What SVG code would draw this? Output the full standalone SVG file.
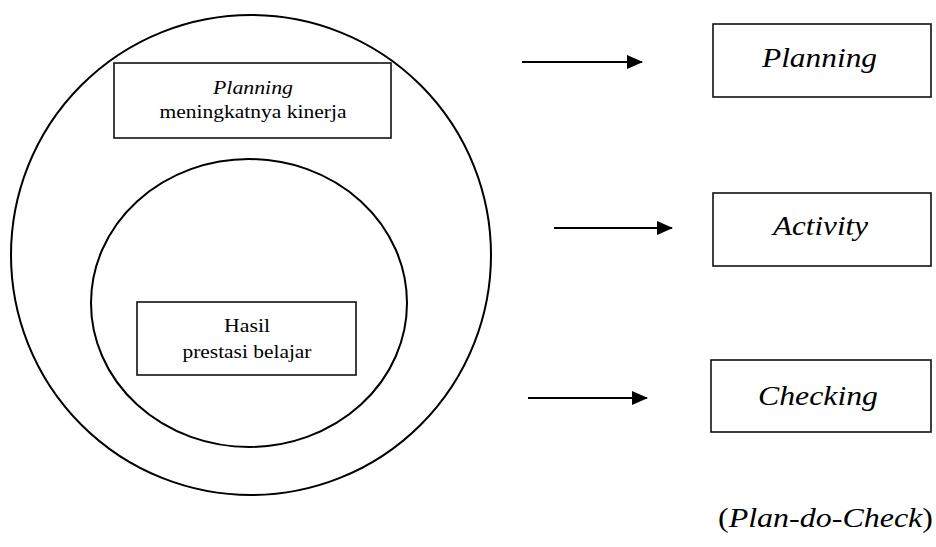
<svg xmlns="http://www.w3.org/2000/svg" width="936" height="547" viewBox="0 0 936 547">
<defs>
<style>
.c{fill:none;stroke:#000;stroke-width:2}
.b{fill:#fff;stroke:#111;stroke-width:1.6}
text{font-family:'Liberation Serif','Times New Roman',Times,serif;fill:#000}
.s{font-size:18px}
.L{font-size:28px;font-style:italic}
.i{font-style:italic}
.a{stroke:#000;stroke-width:2;fill:none;marker-end:url(#ah)}
</style>
<marker id="ah" viewBox="0 0 16 14" refX="15" refY="7" markerWidth="16" markerHeight="14" markerUnits="userSpaceOnUse" orient="auto">
<path d="M0,0 L16,7 L0,14 Z" fill="#000"/>
</marker>
</defs>
<rect width="936" height="547" fill="#fff"/>
<g id="outer-circle"><ellipse class="c" cx="251" cy="255" rx="240" ry="240"/></g>
<g id="inner-circle"><ellipse class="c" cx="249" cy="303" rx="158" ry="144"/></g>
<g id="planning-box" font-family="Liberation Serif, serif">
<rect class="b" x="114" y="63" width="277" height="75"/>
<text class="s i" x="253" y="94" text-anchor="middle" textLength="80" lengthAdjust="spacingAndGlyphs">Planning</text>
<text class="s" x="253" y="118" text-anchor="middle" textLength="187" lengthAdjust="spacingAndGlyphs">meningkatnya kinerja</text>
</g>
<g id="hasil-box">
<rect class="b" x="137" y="302" width="219" height="73"/>
<text class="s" x="247" y="332" text-anchor="middle" textLength="46" lengthAdjust="spacingAndGlyphs">Hasil</text>
<text class="s" x="247" y="358" text-anchor="middle" textLength="129" lengthAdjust="spacingAndGlyphs">prestasi belajar</text>
</g>
<g id="connectors">
<line class="a" x1="522" y1="62" x2="642" y2="62"/>
<line class="a" x1="554" y1="228" x2="672" y2="228"/>
<line class="a" x1="528" y1="398" x2="647" y2="398"/>
</g>
<g id="planning">
<rect class="b" x="713" y="24" width="218" height="73"/>
<text class="L" x="819.5" y="67" text-anchor="middle" textLength="115" lengthAdjust="spacingAndGlyphs">Planning</text>
</g>
<g id="activity">
<rect class="b" x="713" y="193" width="218" height="73"/>
<text class="L" x="820.5" y="235" text-anchor="middle" textLength="95" lengthAdjust="spacingAndGlyphs">Activity</text>
</g>
<g id="checking">
<rect class="b" x="711" y="360" width="220" height="72"/>
<text class="L" x="818" y="405" text-anchor="middle" textLength="120" lengthAdjust="spacingAndGlyphs">Checking</text>
</g>
<g id="caption">
<text style="font-size:27px" x="718" y="527" textLength="215" lengthAdjust="spacingAndGlyphs">(<tspan font-style="italic">Plan-do-Check</tspan>)</text>
</g>
</svg>
